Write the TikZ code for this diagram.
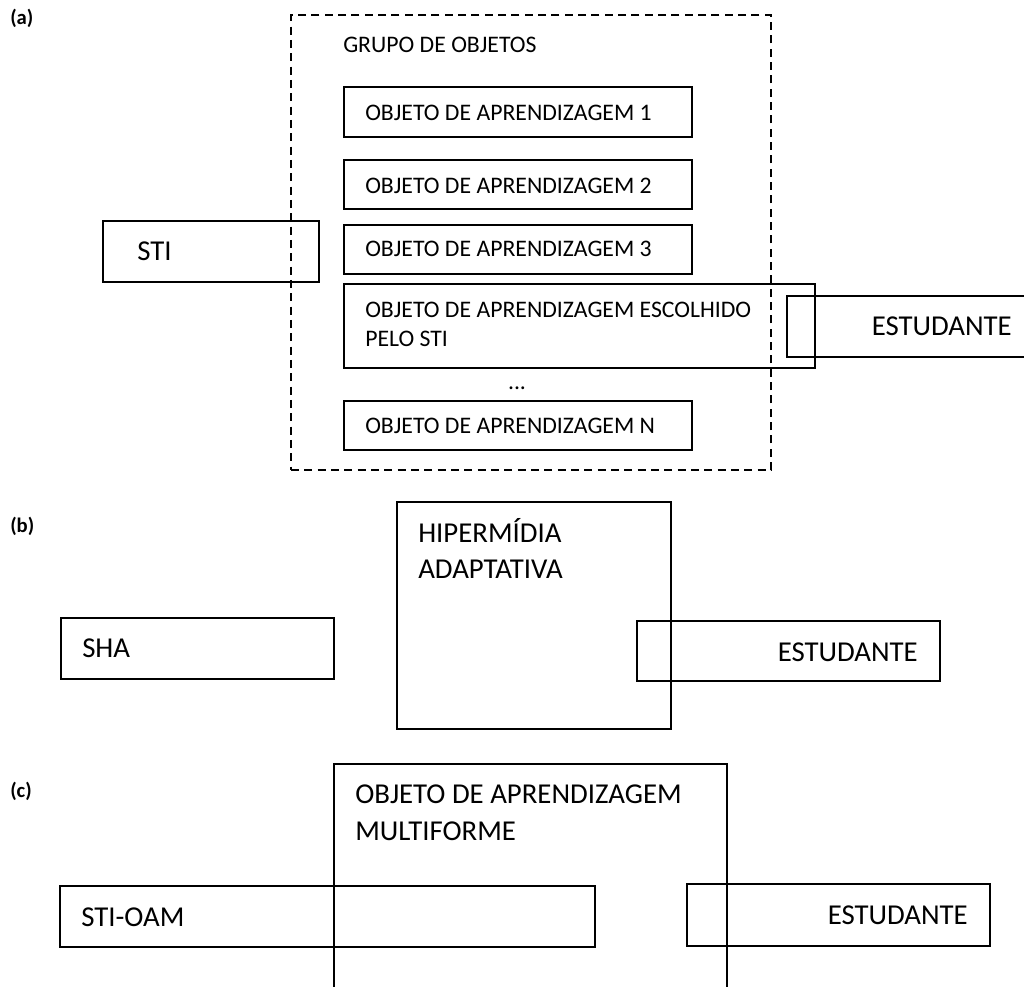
\documentclass[tikz,border=0pt]{standalone}
\usepackage{fontspec}
\setmainfont{Carlito}
\begin{document}
\begin{tikzpicture}[x=0.75pt,y=-0.75pt,
  frame/.style 2 args={draw, line width=0.9pt, minimum width=#1*0.75pt,
    minimum height=#2*0.75pt, anchor=north west, inner sep=0pt, outer sep=0pt},
  dashframe/.style 2 args={frame={#1}{#2}, dash pattern=on 6pt off 4pt},
  small/.style={font=\fontsize{17.8}{21.7}\selectfont, inner sep=0pt, anchor=base west},
  big/.style={font=\fontsize{21.6}{26.4}\selectfont, inner sep=0pt, anchor=base west},
  bigr/.style={big, anchor=base east},
  tag/.style={font=\fontsize{15.5}{19}\selectfont\bfseries, inner sep=0pt, anchor=base west}]
\useasboundingbox (0,0) rectangle (1024,987);
\clip (0,0) rectangle (1024,987);

% ---------- (a) ----------
\node[tag] (ta) at (10,25) {(a)};
\node[dashframe={480}{455}] (grupo) at (291,15) {};
\node[small] (grupoT) at (343,53) {GRUPO DE OBJETOS};

\node[frame={348}{50}] (oa1) at (344,87) {};
\node[small] (oa1T) at (365,121) {OBJETO DE APRENDIZAGEM 1};
\node[frame={348}{49}] (oa2) at (344,160) {};
\node[small] (oa2T) at (365,194) {OBJETO DE APRENDIZAGEM 2};
\node[frame={348}{49}] (oa3) at (344,225) {};
\node[small] (oa3T) at (365,257) {OBJETO DE APRENDIZAGEM 3};
\node[frame={471}{84}] (oaesc) at (344,284) {};
\node[small] (oaescA) at (365,318) {OBJETO DE APRENDIZAGEM ESCOLHIDO};
\node[small] (oaescB) at (365,347) {PELO STI};
\node[small, anchor=base] (dots) at (517,389) {...};
\node[frame={348}{49}] (oan) at (344,401) {};
\node[small] (oanT) at (365,433) {OBJETO DE APRENDIZAGEM N};

\node[frame={216}{61}] (sti) at (103,221) {};
\node[big] (stiT) at (137,261) {STI};
\node[frame={247}{61}] (esta) at (787,296) {};
\node[bigr] (estaT) at (1012,336) {ESTUDANTE};

% ---------- (b) ----------
\node[tag] (tb) at (10,532) {(b)};
\node[frame={274}{227}] (hip) at (397,502) {};
\node[big] (hipA) at (418,542) {HIPERMÍDIA};
\node[big] (hipB) at (418,578) {ADAPTATIVA};
\node[frame={273}{61}] (sha) at (61,618) {};
\node[big] (shaT) at (82,657) {SHA};
\node[frame={303}{60}] (estb) at (637,621) {};
\node[bigr] (estbT) at (918,661) {ESTUDANTE};

% ---------- (c) ----------
\node[tag] (tc) at (10,797) {(c)};
\node[frame={393}{240}] (oam) at (334,764) {};
\node[big] (oamA) at (355,803) {OBJETO DE APRENDIZAGEM};
\node[big] (oamB) at (355,840) {MULTIFORME};
\node[frame={535}{61}] (stioam) at (60,886) {};
\node[big] (stioamT) at (81,926) {STI-OAM};
\node[frame={303}{62}] (estc) at (687,884) {};
\node[bigr] (estcT) at (968,924) {ESTUDANTE};
\end{tikzpicture}
\end{document}
